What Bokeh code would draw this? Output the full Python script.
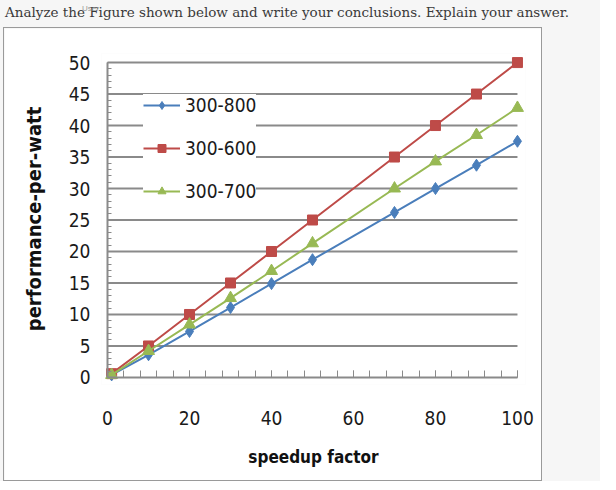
from bokeh.plotting import figure
from bokeh.layouts import column
from bokeh.models import (Div, FixedTicker, Legend, LegendItem, Range1d,
                          ColumnDataSource, LinearAxis)
from bokeh.embed import file_html
from bokeh.resources import INLINE

# ---- data ----
speedup = [1, 10, 20, 30, 40, 50, 70, 80, 90, 100]
s_300_800 = [0.4, 3.6, 7.3, 11.1, 14.9, 18.7, 26.2, 30.0, 33.7, 37.5]
s_300_600 = [0.6, 5.0, 10.0, 15.0, 20.0, 25.0, 35.0, 40.0, 45.0, 50.0]
s_300_700 = [0.4, 4.2, 8.4, 12.6, 16.9, 21.3, 30.0, 34.3, 38.5, 42.8]
series_names = ["300-800", "300-600", "300-700"]
x_ticks = [0, 20, 40, 60, 80, 100]
y_ticks = [0, 5, 10, 15, 20, 25, 30, 35, 40, 45, 50]
x_title = "speedup factor"
y_title = "performance-per-watt"
header = "Analyze the Figure shown below and write your conclusions. Explain your answer."

colors = ["#4A7EBB", "#BE4B48", "#98B954"]
GRID = "#8a8a8a"
FONT = "'Liberation Sans Narrow', 'DejaVu Sans Condensed', sans-serif"

p = figure(width=539, height=454,
           x_range=Range1d(-1.47, 101.96), y_range=Range1d(-1.12, 51.44),
           output_backend="svg", toolbar_location=None,
           min_border_left=97, min_border_right=18,
           min_border_top=25, min_border_bottom=98)
p.outline_line_color = None
p.background_fill_color = "white"
p.border_fill_color = "white"
p.xgrid.visible = False
p.ygrid.visible = False

# horizontal gridlines spanning the x-axis extent
gsrc = ColumnDataSource(dict(y=y_ticks[1:],
                             x0=[x_ticks[0]] * (len(y_ticks) - 1),
                             x1=[x_ticks[-1]] * (len(y_ticks) - 1)))
p.segment(x0="x0", x1="x1", y0="y", y1="y", source=gsrc,
          line_color=GRID, line_width=2, level="underlay")

x_minor = list(range(0, 101, 4))
y_minor = list(range(0, 51))

# label-only axes at the frame edges
xl = p.xaxis[0]
yl = p.yaxis[0]
xl.ticker = FixedTicker(ticks=x_ticks)
yl.ticker = FixedTicker(ticks=y_ticks)
for ax in (xl, yl):
    ax.axis_line_color = None
    ax.major_tick_line_color = None
    ax.minor_tick_line_color = None
    ax.major_tick_out = 0
    ax.major_tick_in = 0
    ax.minor_tick_out = 0
    ax.minor_tick_in = 0
    ax.major_label_text_font = FONT
    ax.major_label_text_font_size = "19px"
    ax.major_label_text_color = "#1a1a1a"
    ax.axis_label_text_font = FONT
    ax.axis_label_text_font_style = "bold"
    ax.axis_label_text_color = "#111111"
xl.axis_label_text_font_size = "17px"
yl.axis_label_text_font_size = "20px"
xl.major_label_standoff = 26
xl.axis_label = x_title
xl.axis_label_standoff = 19
yl.major_label_standoff = 11
yl.axis_label = y_title
yl.axis_label_standoff = 20

# line/tick axes fixed at the data origin
xa = LinearAxis(fixed_location=0, bounds=(x_ticks[0], x_ticks[-1]),
                ticker=FixedTicker(ticks=x_ticks, minor_ticks=x_minor))
ya = LinearAxis(fixed_location=0, bounds=(y_ticks[0], y_ticks[-1]),
                ticker=FixedTicker(ticks=y_ticks, minor_ticks=y_minor))
for ax in (xa, ya):
    ax.axis_line_color = GRID
    ax.axis_line_width = 2
    ax.major_tick_line_color = GRID
    ax.minor_tick_line_color = GRID
    ax.major_tick_out = 0
    ax.minor_tick_out = 0
    ax.major_label_text_font_size = "0px"
    ax.major_label_text_color = None
    ax.major_label_standoff = 0
xa.major_tick_in = 7
xa.minor_tick_in = 7
ya.major_tick_in = 5
ya.minor_tick_in = 4
p.add_layout(xa, "below")
p.add_layout(ya, "left")

markers = ["diamond", "square", "triangle"]
sizes = [12, 10, 12]
items = []
for name, ys, c, m, s in zip(series_names, [s_300_800, s_300_600, s_300_700],
                             colors, markers, sizes):
    src = ColumnDataSource(dict(x=speedup, y=ys))
    r1 = p.line("x", "y", source=src, line_color=c, line_width=2)
    r2 = p.scatter("x", "y", source=src, marker=m, size=s,
                   fill_color=c, line_color=c)
    items.append(LegendItem(label=name, renderers=[r1, r2]))

legend = Legend(items=items, location=(42, 182),
                label_text_font=FONT, label_text_font_size="19px",
                label_text_color="#1a1a1a",
                glyph_width=37, glyph_height=20, label_height=20,
                label_standoff=5, spacing=21, padding=10,
                border_line_color=None, background_fill_color="white",
                background_fill_alpha=1.0)
p.add_layout(legend, "center")

p.styles = {"border": "1px solid #9a9a9a", "box-sizing": "border-box"}
p.margin = (0, 0, 0, 3)

div = Div(text=header + '<span style="position:absolute;left:77px;top:-4px;'
          'font-size:8px;color:#9a9a9a;font-family:sans-serif">User</span>',
          width=600, height=17,
          styles={"font-family": "'DejaVu Serif', serif", "font-size": "13.5px",
                  "color": "#3a3a3a", "line-height": "15px",
                  "white-space": "nowrap", "position": "relative"})

lay = column(div, p, styles={"background-color": "#f6f6f6"}, width=600)

open("out.html", "w").write(file_html(lay, INLINE))
